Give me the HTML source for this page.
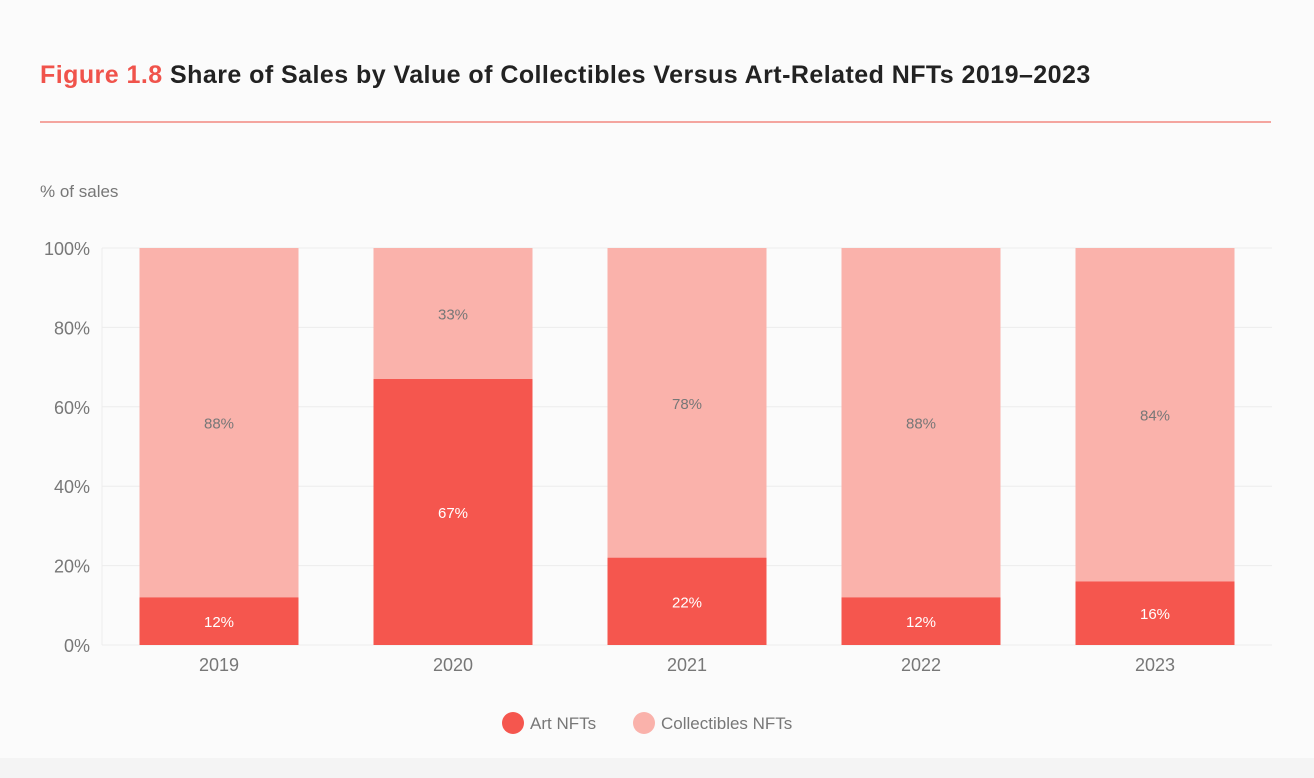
<!DOCTYPE html>
<html><head><meta charset="utf-8">
<style>
body{margin:0;width:1314px;height:778px;background:#fbfbfb;font-family:"Liberation Sans",sans-serif;overflow:hidden;position:relative}
#title{position:absolute;left:40px;top:61px;font-size:25px;font-weight:bold;color:#222;letter-spacing:0.45px}
#title span{color:#f0534b}
#rule{position:absolute;left:40px;top:121px;width:1231px;height:2px;background:#f4a59f}
#bottom{position:absolute;left:0;top:758px;width:1314px;height:20px;background:#f4f4f4}
</style></head><body>
<div id="title"><span>Figure 1.8</span> Share of Sales by Value of Collectibles Versus Art-Related NFTs 2019–2023</div>
<div id="rule"></div>
<div id="bottom"></div>
<svg id="chart" width="1314" height="778" style="position:absolute;left:0;top:0"></svg>
<script>
const categories=["2019","2020","2021","2022","2023"];
const artValues=[12,67,22,12,16];
const collectibleValues=[88,33,78,88,84];
const yTicks=[0,20,40,60,80,100];
const yTickLabels=["0%","20%","40%","60%","80%","100%"];

const NS="http://www.w3.org/2000/svg";
const svg=document.getElementById('chart');
const L=102,R=1272,T=248,B=645;
const band=(R-L)/categories.length, bw=159;
const x=i=>L+band*i+band/2;
const y=v=>B-(B-T)*v/100;
function mk(tag,attrs,txt){const e=document.createElementNS(NS,tag);for(const k in attrs)e.setAttribute(k,attrs[k]);if(txt!=null)e.textContent=txt;svg.appendChild(e);return e;}
let t=mk('text',{x:40,y:197,'font-size':17,fill:'#777'},'% of sales');


yTicks.forEach((v,i)=>{
  const g=mk('line',{x1:L,x2:R,y1:y(v),y2:y(v),stroke:'#ececec','stroke-width':1});
  
  
  const l=mk('text',{x:90,y:y(v)+7,'font-size':18,fill:'#777','text-anchor':'end'},yTickLabels[i]);
  
  
});
const ax=mk('line',{x1:L,x2:L,y1:T,y2:B,stroke:'#ececec'});


categories.forEach((c,i)=>{
  const cx=x(i),a=artValues[i],co=collectibleValues[i];
  const r1=mk('rect',{x:cx-bw/2,y:y(a+co),width:bw,height:y(a)-y(a+co),fill:'#fab2ab'});
  
  
  const r2=mk('rect',{x:cx-bw/2,y:y(a),width:bw,height:B-y(a),fill:'#f5564e'});
  
  
  const l1=mk('text',{x:cx,y:(y(a+co)+y(a))/2+6,'font-size':15,fill:'#777','text-anchor':'middle'},co+'%');
  
  
  const l2=mk('text',{x:cx,y:(y(a)+B)/2+6,'font-size':15,fill:'#fff','text-anchor':'middle'},a+'%');
  
  
  const xl=mk('text',{x:cx,y:671,'font-size':18,fill:'#777','text-anchor':'middle'},c);
  
  
});
const c1=mk('circle',{cx:513,cy:723,r:11,fill:'#f5564e'});


const t1=mk('text',{x:530,y:729,'font-size':17,fill:'#777'},'Art NFTs');


const c2=mk('circle',{cx:644,cy:723,r:11,fill:'#fab2ab'});


const t2=mk('text',{x:661,y:729,'font-size':17,fill:'#777'},'Collectibles NFTs');


</script>
</body></html>
